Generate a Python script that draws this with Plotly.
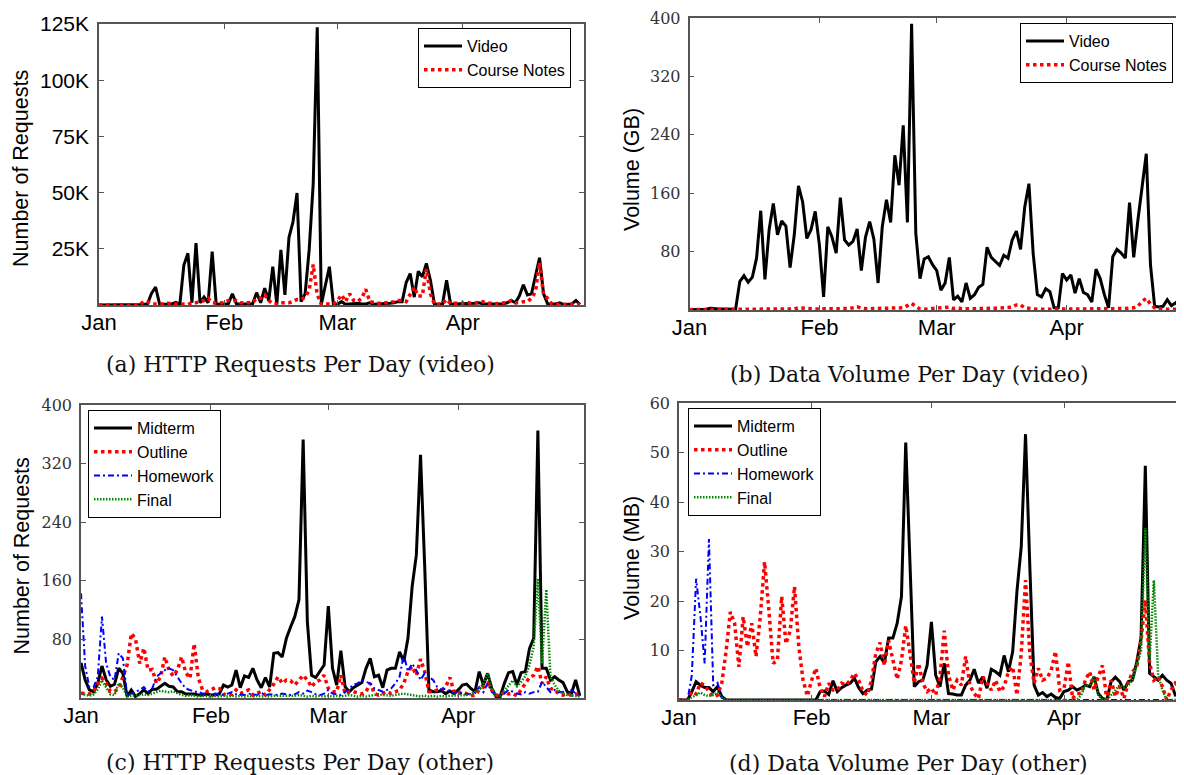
import pandas as pd
import plotly.graph_objects as go

W, H = 1184, 775
OFF = 8  # default page margin of the html body
FW, FH = W - OFF, H - OFF

# ---------------- data (daily, Jan 1 .. Apr 30) ----------------
days = pd.date_range("2009-01-01", periods=120, freq="D")
month_ticks = ["2009-01-01", "2009-02-01", "2009-03-01", "2009-04-01"]
month_labels = ["Jan", "Feb", "Mar", "Apr"]

# (a) HTTP requests per day (video), thousands
a_video = (
    [0, 0, 0, 0, 0, 0, 0, 0, 0, 0, 0, 0.2, 0.5, 5.2, 8, 0.3, 0.3, 0.3, 0.5, 1.2, 0.3, 17.8, 23, 1, 27.5, 1, 3.5, 1, 23.7, 0.3, 0.5]
    + [0.5, 0.5, 5, 0.5, 0.5, 0.3, 0.3, 0.5, 5.5, 1, 7.5, 2, 17, 0.3, 24.5, 4.5, 30, 37, 49.8, 1.5, 5, 24.5, 54, 123.5, 0.3, 8, 17, 0.3]
    + [0.3, 1.5, 0.3, 0.5, 0.8, 0.8, 0.5, 0.5, 1, 0.3, 0.5, 0.5, 0.8, 0.8, 1, 1.5, 1.5, 10, 14, 3.5, 15, 12.5, 18.5, 11, 0.3, 0.3, 0.5, 11, 0.3, 0.5, 0.5]
    + [0.5, 0.5, 0.5, 0.8, 1, 0.5, 0.5, 0.5, 0.3, 0.3, 0.5, 1, 2, 1, 4, 9, 4.5, 5, 12.5, 21, 5, 0.5, 0.5, 0.5, 1, 0.2, 0.3, 0.5, 2, 0.2]
)
a_notes = (
    [0, 0, 0, 0, 0, 0, 0, 0, 0, 0, 0, 1.5, 1.5, 0.5, 0.5, 0.3, 0.5, 0.8, 0.5, 0.5, 0.5, 0.5, 0.3, 1, 1, 1.5, 2, 3, 1, 0.8, 1]
    + [1, 2, 2, 2, 1, 1, 0.8, 1, 3, 3, 4.5, 2, 0.5, 0.5, 1, 1, 1, 1.5, 2.5, 2.5, 3.5, 6.5, 18, 4.5, 0.3, 0.5, 0.5, 0.5]
    + [2, 4.5, 1.5, 5, 2, 1.5, 3, 7, 1.5, 1, 0.8, 0.8, 1, 1, 1.5, 2, 2, 1.5, 4.5, 8, 4, 4, 16, 5, 0.3, 0.3, 0.5, 2.5, 0.5, 0.8, 0.8]
    + [0.8, 1.2, 0.8, 0.8, 1.5, 1.5, 0.8, 0.8, 0.5, 0.8, 0.8, 1, 2, 1, 1, 1.5, 1.5, 3, 6, 19, 4.5, 3, 0.5, 0.3, 0.3, 0.3, 0.3, 0.3, 0.3, 0.3]
)

# (b) data volume per day (video), GB
b_video = (
    [0.5, 0.5, 0.5, 0.5, 1, 2.5, 1.5, 1.5, 1.5, 1, 1, 1, 39, 47, 38, 45, 71, 136, 42, 110, 146, 103, 122, 115, 58, 103, 170, 148, 98, 110, 135]
    + [89, 18, 114, 100, 78, 154, 96, 89, 94, 111, 54, 100, 121, 97, 37, 114, 151, 120, 212, 171, 253, 120, 392, 105, 43, 70, 73, 62]
    + [54, 27, 37, 72, 14, 19, 11, 37, 16, 21, 31, 35, 86, 72, 66, 61, 75, 71, 96, 108, 83, 141, 173, 78, 21, 18, 29, 25, 3, 3, 50]
    + [41, 48, 23, 43, 24, 21, 11, 56, 43, 21, 3, 73, 83, 78, 71, 147, 72, 123, 167, 214, 62, 5, 4, 5, 14, 6, 10, 3, 12, 8]
)
b_notes = (
    [0.5, 0.5, 0.5, 0.5, 0.5, 0.5, 0.5, 0.5, 0.5, 0.5, 0.5, 0.5, 1, 1, 1.5, 1, 1, 1, 1.5, 1, 1, 1, 1.5, 1, 1, 1.5, 3, 2.5, 1.5, 1.5, 1.5]
    + [1.5, 1.5, 2, 1.5, 1.5, 2, 1.5, 2, 3, 4.5, 2.5, 1.5, 1.5, 2, 2, 2, 2.5, 2, 2, 2.5, 3, 6, 9, 5, 1.5, 1, 1.5, 1.5]
    + [2, 2.5, 4, 4, 2, 3, 1.5, 1.5, 1.5, 1.5, 1.5, 2, 2, 2, 2.5, 2.5, 3, 3, 4, 7, 7, 3, 2, 1.5, 1, 1, 1, 1.5, 1, 1.5, 1.5]
    + [1.5, 2, 1.5, 2, 1.5, 1.5, 2, 2, 1.5, 1.5, 1, 1.5, 2, 2, 2, 2.5, 3, 5, 12, 16, 8, 3, 1.5, 1, 1, 1, 1, 1, 1, 1]
)

# (c) HTTP requests per day (other)
c_midterm = (
    [48, 24.6, 11, 8.6, 20, 43.7, 25, 16, 18.7, 40.5, 33.7, 2, 11, 2, 6, 11, 6, 12, 12, 16, 20, 16, 15, 8.6, 8.6, 5.5, 6, 5.5, 4, 4, 5.5]
    + [4, 4, 5.5, 17.7, 15, 17.7, 38, 14, 30, 28, 40.5, 24.6, 14, 28, 15, 61, 62, 56, 81.5, 97, 111, 134, 353, 104, 31, 28, 36, 45]
    + [125.6, 40.5, 17.7, 64.6, 15.5, 8.6, 14, 17.7, 21, 40.5, 54, 29, 31, 14, 38, 40.5, 40.5, 63, 49.6, 81.5, 152, 195, 332, 179, 11, 8.6, 8.6, 10, 6, 9.6, 6]
    + [11, 17.7, 19, 13, 8.6, 36, 17.7, 33.7, 13, 2, 2, 20, 34.6, 36, 17.7, 34.6, 36, 67.8, 81.5, 365, 40.5, 40.5, 24.6, 29, 24.6, 21, 8.6, 6, 24.6, 3]
)
c_outline = (
    [7, 5.5, 5.5, 9, 20, 27, 20, 9, 9, 13, 29, 45, 88, 81, 47, 68, 38, 39, 20, 29, 56, 38, 30, 38, 56, 34.6, 27, 74, 27, 11, 8.6]
    + [11, 14, 13, 5, 4, 5, 11, 6, 8.6, 11, 4, 6, 8.6, 4, 11, 19, 29, 20, 24.6, 23.7, 17.7, 24.6, 31, 24.6, 15, 22, 24.6, 31]
    + [13, 8.6, 8.6, 31, 6, 8.6, 8.6, 7, 5.5, 8.6, 20, 6, 4, 6, 8.6, 6, 8.6, 11, 20, 36, 43, 31, 53, 36, 8.6, 8.6, 11, 11, 15, 28, 8.6]
    + [6, 8.6, 5.5, 3, 4, 11, 15, 20, 11, 4, 3, 8.6, 5.5, 6, 3, 11, 20, 28, 31, 43, 20, 29, 13, 11, 5.5, 4, 6, 4, 5.5, 3]
)
c_homework = (
    [143, 43, 15, 15, 29, 111, 47, 29, 24.6, 61, 54, 4, 6, 8.6, 11, 15, 8.6, 13, 29, 33.7, 38, 40.5, 38, 29, 20, 13, 11, 8.6, 8.6, 6, 5.5]
    + [4, 6, 5, 4, 6, 8, 5, 4, 4, 6, 5, 4, 7, 4, 5, 5, 4, 6, 5, 4, 5, 8, 6, 10, 8, 5, 4, 6]
    + [11, 6, 5, 4, 8, 13, 18, 20, 24.6, 22, 20, 13, 11, 8.6, 11, 13, 20, 29, 59, 36, 47, 38, 24.6, 33.7, 29, 24.6, 15, 11, 13, 8.6, 6]
    + [8.6, 6, 5, 6, 8, 15, 8, 20, 8, 5, 4, 6, 11, 8.6, 6, 5, 8, 6, 8, 8.6, 22, 15, 8, 11, 8, 8.6, 6, 11, 6, 4]
)
c_final = (
    [6, 4, 3, 5, 12, 24, 14, 5, 4, 20, 14, 2, 3, 3, 4, 5, 4, 6, 8, 10, 9, 8, 9, 6, 4, 3, 4, 3, 2, 3, 2]
    + [2, 3, 2, 3, 2, 3, 2, 3, 2, 3, 2, 3, 2, 3, 2, 3, 3, 2, 3, 2, 3, 4, 3, 2, 3, 2, 3, 2]
    + [3, 2, 3, 2, 3, 4, 3, 2, 3, 2, 3, 4, 5, 4, 3, 3, 4, 5, 6, 5, 4, 3, 2, 3, 2, 3, 2, 3, 2, 3, 3]
    + [3, 3, 4, 5, 8, 12, 20, 34, 14, 4, 3, 10, 18, 24, 16, 22, 30, 45, 70, 163, 47, 148, 29, 18, 10, 6, 4, 3, 3, 2]
)

# (d) data volume per day (other), MB
d_midterm = (
    [0, 0, 0, 1.7, 3.7, 3, 2.5, 2.5, 1.7, 2.7, 0.7, 0, 0, 0, 0, 0, 0, 0, 0, 0, 0, 0, 0, 0, 0, 0, 0, 0, 0, 0, 0]
    + [0, 0, 1.7, 1.8, 1.1, 3.9, 1.7, 2.5, 3, 3.4, 4.4, 2.5, 1.3, 2, 2.2, 7.7, 8.8, 7.5, 12.5, 12.5, 15.5, 20.9, 52, 26, 2.7, 3.7, 4, 7]
    + [15.8, 5, 2.7, 7.4, 1.3, 1.2, 1, 1, 3, 4, 6.2, 3.4, 4.7, 2.4, 6.2, 5.7, 5, 9, 5.7, 9.8, 22, 31, 53.7, 27, 3, 1, 1.5, 0.7, 1.2, 0.5, 0.3]
    + [1.7, 2, 2.7, 2, 2.4, 3, 2.7, 4.7, 1.3, 0.3, 0, 3.7, 4.6, 3.7, 2, 3.7, 4, 7.7, 12.5, 47.3, 5.4, 4.7, 4, 5, 4, 3.4, 1, 1.2, 1.2, 1.5]
)
d_outline = (
    [0, 0, 0, 1.7, 1.2, 3.4, 3, 1.7, 0.7, 1, 3.4, 9.8, 17.8, 15.5, 6.7, 16.8, 10.8, 15.5, 8.8, 16.8, 27.9, 18.2, 7.4, 8, 20.9, 11.4, 14, 22.9, 10.8, 4, 0.8]
    + [4, 6.4, 2.4, 0.7, 3.4, 2, 2, 3.4, 3, 4, 5.4, 4, 1.7, 1, 4, 9.4, 11.6, 7, 12, 8.4, 4.2, 8, 15, 9.4, 3.4, 7.4, 3.4, 1.7]
    + [2.4, 1, 4.7, 14, 5, 2, 4, 3, 8.8, 3, 1.3, 0.3, 4.7, 3.4, 2, 4, 1.7, 2.7, 5.7, 6.7, 1, 9.4, 24.2, 9.4, 3.4, 6.4, 4, 4.4, 6, 9.8, 2]
    + [2.4, 7.7, 0.3, 1.3, 1.3, 4, 5.7, 2, 4.7, 7, 0, 4, 0.7, 2.7, 0.3, 3.4, 5.7, 6.7, 12, 20.2, 7.4, 4, 4.7, 2.7, 0, 2, 3.4, 2.7, 3.2, 3]
)
d_homework = (
    [0, 0, 0, 5, 24.5, 17, 7.4, 32.5, 3, 3.5, 0.5, 0, 0, 0, 0, 0, 0, 0, 0, 0, 0, 0, 0, 0, 0, 0, 0, 0, 0, 0, 0]
    + [0] * 28 + [0] * 31 + [0] * 30
)
d_final = (
    [0, 0, 0, 0.5, 1, 1.5, 1, 0.8, 1, 1.5, 0.5, 0, 0, 0, 0, 0, 0, 0, 0, 0, 0, 0, 0, 0, 0, 0, 0, 0, 0, 0, 0]
    + [0] * 28 + [0] * 31
    + [0, 0, 0, 0, 1, 3, 3, 4.7, 1, 0, 0, 1, 2, 3, 2.5, 3, 4, 7, 10, 34.7, 8, 24.2, 5, 2, 0, 0, 0, 0, 0, 0]
)

a_yticks = [25, 50, 75, 100, 125]
a_yticktext = ["25K", "50K", "75K", "100K", "125K"]
b_yticks = [80, 160, 240, 320, 400]
c_yticks = [80, 160, 240, 320, 400]
d_yticks = [10, 20, 30, 40, 50, 60]

captions = ["(a) HTTP Requests Per Day (video)", "(b) Data Volume Per Day (video)",
            "(c) HTTP Requests Per Day (other)", "(d) Data Volume Per Day (other)"]

# ---------------- styles ----------------
SANS = "Liberation Sans"
SERIF = "DejaVu Serif"
BLACK = dict(color="black", width=3)
RED = dict(color="red", width=3.5, dash="dot")
BLUE = dict(color="#0000ff", width=2, dash="6px,3px,2px,3px")
GREEN = dict(color="#008a00", width=2.5, dash="1.5px,1.5px")

fig = go.Figure()


def add(y, name, line, ax, legend, group):
    fig.add_trace(go.Scatter(
        x=days, y=y, name=name, mode="lines", line=line,
        xaxis="x" + ax, yaxis="y" + ax, legend=legend, legendgroup=group,
    ))


add(a_video, "Video", BLACK, "", "legend", "a1")
add(a_notes, "Course Notes", RED, "", "legend", "a2")
add(b_video, "Video", BLACK, "2", "legend2", "b1")
add(b_notes, "Course Notes", RED, "2", "legend2", "b2")
add(c_midterm, "Midterm", BLACK, "3", "legend3", "c1")
add(c_outline, "Outline", RED, "3", "legend3", "c2")
add(c_homework, "Homework", BLUE, "3", "legend3", "c3")
add(c_final, "Final", GREEN, "3", "legend3", "c4")
add(d_midterm, "Midterm", BLACK, "4", "legend4", "d1")
add(d_outline, "Outline", RED, "4", "legend4", "d2")
add(d_homework, "Homework", BLUE, "4", "legend4", "d3")
add(d_final, "Final", GREEN, "4", "legend4", "d4")


def fx(p):
    return (p - OFF) / FW


def fy(p):
    return 1 - (p - OFF) / FH


AXC = "#555555"


def xax(domain, anchor, rng):
    return dict(
        domain=domain, anchor=anchor, type="date", range=rng,
        tickmode="array", tickvals=month_ticks, ticktext=month_labels,
        ticks="inside", ticklen=5, tickcolor=AXC, tickwidth=1,
        showline=True, linecolor=AXC, linewidth=1.5, mirror="ticks",
        showgrid=False, zeroline=False,
        tickfont=dict(family=SANS, size=22, color="black"),
        ticklabelstandoff=-3,
    )


def yax(domain, anchor, rng, vals, text, font, mirror):
    return dict(
        domain=domain, anchor=anchor, range=rng,
        tickmode="array", tickvals=vals, ticktext=text,
        ticks="inside", ticklen=5, tickcolor=AXC, tickwidth=1,
        showline=True, linecolor=AXC, linewidth=1.5, mirror=mirror,
        showgrid=False, zeroline=False, tickfont=font,
        ticklabelstandoff=4,
    )


serif_font = dict(family=SERIF, size=16, color="#333333")

fig.update_layout(
    xaxis=xax([fx(99), fx(584)], "y", ["2009-01-01", "2009-05-01"]),
    yaxis=yax([fy(305), fy(24)], "x", [0, 125], a_yticks, a_yticktext,
              dict(family=SANS, size=21, color="black"), "ticks"),
    xaxis2=xax([fx(689.5), 1], "y2", ["2009-01-01", "2009-04-29"]),
    yaxis2=yax([fy(310), fy(18)], "x2", [0, 400], b_yticks, [str(v) for v in b_yticks], serif_font, False),
    xaxis3=xax([fx(81), fx(584)], "y3", ["2009-01-01", "2009-05-01"]),
    yaxis3=yax([fy(698), fy(405)], "x3", [0, 400], c_yticks, [str(v) for v in c_yticks], serif_font, "ticks"),
    xaxis4=xax([fx(679), 1], "y4", ["2009-01-01", "2009-04-29 01:00"]),
    yaxis4=yax([fy(700), fy(403)], "x4", [0, 60], d_yticks, [str(v) for v in d_yticks], serif_font, False),
)

leg_common = dict(
    bgcolor="white", bordercolor="black", borderwidth=1,
    font=dict(family=SANS, size=16, color="black"),
    xanchor="left", yanchor="top", tracegroupgap=0, itemwidth=38,
)
fig.update_layout(
    legend=dict(x=fx(418), y=fy(28), **leg_common),
    legend2=dict(x=fx(1020), y=fy(23), **leg_common),
    legend3=dict(x=fx(88), y=fy(410), **leg_common),
    legend4=dict(x=fx(688), y=fy(408), **leg_common),
)

ann = []
for text, cx, cy in zip(captions, [300.5, 909, 300, 908.5], [364.5, 374, 762, 763]):
    ann.append(dict(text=text, x=fx(cx), y=fy(cy), xref="paper", yref="paper",
                    xanchor="center", yanchor="middle", showarrow=False,
                    font=dict(family=SERIF, size=22, color="#111111")))
for text, cx, cy in [("Number of Requests", 21, 169), ("Volume (GB)", 632, 170),
                     ("Number of Requests", 21, 556.5), ("Volume (MB)", 632, 558)]:
    ann.append(dict(text=text, x=fx(cx), y=fy(cy), xref="paper", yref="paper",
                    xanchor="center", yanchor="middle", showarrow=False, textangle=-90,
                    font=dict(family=SANS, size=21.5, color="black")))

fig.update_layout(
    width=FW, height=FH, margin=dict(l=0, r=0, t=0, b=0, autoexpand=False),
    paper_bgcolor="white", plot_bgcolor="white",
    showlegend=True, annotations=ann,
)

fig.write_html("out.html")
